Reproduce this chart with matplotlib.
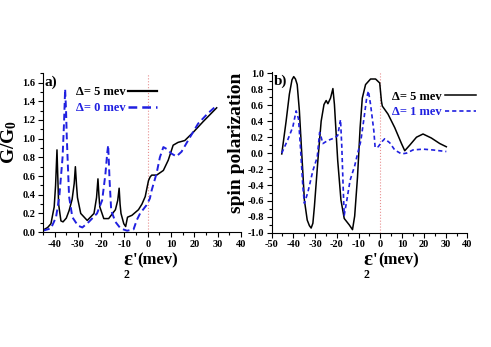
import matplotlib
matplotlib.use("Agg")
import matplotlib.pyplot as plt
from matplotlib.ticker import MultipleLocator
from matplotlib.lines import Line2D

# panel a) conductance
x_a5 = [-45, -44.4, -43, -41.6, -40.2, -39.6, -39.0, -38.6, -38.3, -37.3, -36.4, -35, -33.8, -32.5,
        -31.6, -31.1, -30.6, -30.2, -28.8, -26.0, -23.1, -22.0, -21.4, -21.0, -20.6, -18.9, -16.8,
        -13.9, -12.9, -12.3, -11.9, -11.5, -10.3, -9.5, -8.7, -6.8, -4.0, -2.5, -1.1, 0.3, 1.0, 1.7,
        3.8, 6.7, 8.8, 10.9, 13.0, 15.9, 19.6, 23.7, 29.6]
g_a5 = [0.03, 0.03, 0.05, 0.09, 0.27, 0.5, 0.88, 0.55, 0.30, 0.12, 0.11, 0.15, 0.23, 0.35,
        0.52, 0.70, 0.5, 0.37, 0.2, 0.125, 0.2, 0.37, 0.57, 0.4, 0.27, 0.145, 0.145,
        0.24, 0.34, 0.47, 0.3, 0.2, 0.09, 0.06, 0.16, 0.18, 0.24, 0.3, 0.38, 0.55, 0.59, 0.61,
        0.61, 0.66, 0.77, 0.93, 0.96, 0.98, 1.07, 1.18, 1.33]
x_a0 = [-45, -44.4, -41.6, -39.4, -38, -36.6, -36.0, -35.5, -35.1, -34.8, -33.8, -32.4, -30, -28.1,
        -25.3, -21.8, -19.6, -18.2, -17.4, -17.0, -16.4, -15.7, -13.9, -11.7, -8.9, -6.1, -4.7, -3.3,
        -0.5, 0.9, 1.7, 3.8, 5.2, 6.7, 8.1, 10.2, 12.3, 14.5, 17.3, 21.6, 25.8, 29.4]
g_a0 = [0.02, 0.02, 0.04, 0.16, 0.38, 0.80, 1.15, 1.53, 1.3, 1.02, 0.38, 0.16, 0.07, 0.05,
        0.11, 0.20, 0.34, 0.62, 0.85, 0.93, 0.55, 0.23, 0.11, 0.04, 0.015, 0.03, 0.13, 0.20,
        0.29, 0.36, 0.45, 0.63, 0.80, 0.91, 0.89, 0.84, 0.81, 0.86, 0.98, 1.16, 1.27, 1.35]

# panel b) spin polarization
x_b5 = [-45.3, -43.3, -41.8, -40.6, -39.8, -39.0, -38.2, -37.2, -36.1, -34.9, -33.6, -32.6, -31.8,
        -31.0, -30.3, -28.7, -27.2, -25.9, -24.9, -24.1, -22.9, -21.8, -21.1, -19.6, -18.1, -16.6,
        -14.3, -12.8, -11.8, -10.5, -9.3, -8.3, -6.8, -4.5, -2.2, -0.3, 0.5, 0.9, 3.5, 6.6, 9.7,
        11.2, 13.5, 16.6, 19.6, 23.4, 27.3, 30.3]
p_b5 = [-0.01, 0.40, 0.74, 0.92, 0.96, 0.93, 0.86, 0.53, -0.01, -0.59, -0.84, -0.91, -0.94,
        -0.88, -0.67, -0.09, 0.40, 0.61, 0.66, 0.62, 0.69, 0.81, 0.61, -0.09, -0.59, -0.82,
        -0.90, -0.96, -0.79, -0.30, 0.32, 0.69, 0.86, 0.93, 0.93, 0.88, 0.65, 0.59, 0.49, 0.32, 0.12,
        0.03, 0.10, 0.20, 0.24, 0.19, 0.12, 0.08]
x_b1 = [-45.3, -42.5, -40.2, -38.7, -37.6, -36.7, -35.6, -34.9, -33.3, -31.0, -29.0, -27.9, -27.2,
        -26.4, -24.1, -21.1, -19.6, -18.3, -17.7, -17.1, -16.6, -15.4, -13.9, -11.8, -10.5, -9.0,
        -7.5, -6.3, -5.5, -4.5, -3.0, -2.4, -1.0, 0.95, 2.0, 4.3, 6.6, 9.7, 12.0, 15.0, 19.6, 24.1, 30.3]
p_b1 = [0.0, 0.17, 0.33, 0.53, 0.43, 0.07, -0.42, -0.63, -0.49, -0.22, -0.05, 0.26, 0.20,
        0.12, 0.16, 0.19, 0.22, 0.42, 0.07, -0.42, -0.78, -0.59, -0.34, -0.16, -0.01, 0.15,
        0.44, 0.69, 0.78, 0.61, 0.28, 0.07, 0.08, 0.15, 0.18, 0.13, 0.04, -0.01, 0.0, 0.04, 0.05, 0.04, 0.02]

plt.rcParams['font.family'] = 'Liberation Serif'
plt.rcParams['font.weight'] = 'bold'
plt.rcParams['axes.labelweight'] = 'bold'
plt.rcParams['axes.unicode_minus'] = False
plt.rcParams['mathtext.fontset'] = 'custom'
plt.rcParams['mathtext.rm'] = 'Liberation Serif:bold'
plt.rcParams['mathtext.it'] = 'Liberation Serif:bold'
plt.rcParams['mathtext.bf'] = 'Liberation Serif:bold'

blue = '#2020e0'
W, H = 491, 347
fig = plt.figure(figsize=(W / 100, H / 100), dpi=100)
ax1 = fig.add_axes([0.0876, 0.331, 0.403, 0.458])
ax2 = fig.add_axes([0.553, 0.329, 0.399, 0.464])


def style(ax):
    for s in ['top', 'right']:
        ax.spines[s].set_visible(False)
    ax.tick_params(which='both', direction='out', labelsize=7.5, width=0.8, pad=2)
    ax.tick_params(which='major', length=3.5)
    ax.tick_params(which='minor', length=2)
    ax.xaxis.set_major_locator(MultipleLocator(10))
    ax.xaxis.set_minor_locator(MultipleLocator(5))
    ax.axvline(0, color='#e89090', lw=0.8, ls=':', zorder=0)


def eps_label(x_eps, x_mev):
    # epsilon'_2 (mev) label built from pieces, positions in pixels
    fig.text(x_eps / W, 1 - 265 / H, 'ε', fontsize=15, ha='right', va='baseline')
    fig.text((x_eps - 6) / W, 1 - 277.5 / H, '2', fontsize=8.5, ha='center', va='baseline')
    fig.text((x_eps + 0.5) / W, 1 - 264 / H, "'", fontsize=12, ha='left', va='baseline')
    fig.text(x_mev / W, 1 - 264 / H, '(mev)', fontsize=12, ha='left', va='baseline')


# a)
ax1.plot(x_a5, g_a5, color='black', lw=1.1)
ax1.plot(x_a0, g_a0, color=blue, lw=1.4, dashes=(3.5, 2.0))
ax1.set_xlim(-45, 40)
ax1.set_ylim(0, 1.7)
ax1.yaxis.set_major_locator(MultipleLocator(0.2))
ax1.yaxis.set_minor_locator(MultipleLocator(0.1))
style(ax1)
ax1.set_ylabel(r"G/G$_0$", fontsize=14)
ax1.yaxis.set_label_coords(-0.12, 0.566)
ax1.text(0.005, 0.985, 'a)', transform=ax1.transAxes, fontsize=11, va='top')
h = [Line2D([], [], color='black', lw=1.6), Line2D([], [], color=blue, lw=1.8, dashes=(3.5, 2.0))]
leg = ax1.legend(h, ['Δ= 5 mev', 'Δ= 0 mev'], loc='upper left', bbox_to_anchor=(0.13, 0.965),
                 frameon=False, markerfirst=False, fontsize=9, handlelength=2.3,
                 handletextpad=0.2, labelspacing=0.3, borderpad=0.1)
leg.get_texts()[1].set_color(blue)
eps_label(132, 137)

# b)
ax2.plot(x_b5, p_b5, color='black', lw=1.1)
ax2.plot(x_b1, p_b1, color=blue, lw=1.2, dashes=(2.5, 1.8))
ax2.set_xlim(-50, 40)
ax2.set_ylim(-1.0, 1.02)
ax2.yaxis.set_major_locator(MultipleLocator(0.2))
ax2.yaxis.set_minor_locator(MultipleLocator(0.1))
style(ax2)
ax2.set_ylabel('spin polarization', fontsize=14)
ax2.yaxis.set_label_coords(-0.135, 0.56)
ax2.text(0.01, 0.985, 'b)', transform=ax2.transAxes, fontsize=11, va='top')
h = [Line2D([], [], color='black', lw=1.1), Line2D([], [], color=blue, lw=1.2, dashes=(2.5, 1.8))]
leg = ax2.legend(h, ['Δ= 5 mev', 'Δ= 1 mev'], loc='upper left', bbox_to_anchor=(0.575, 0.93),
                 frameon=False, markerfirst=False, fontsize=9, handlelength=2.5,
                 handletextpad=0.3, labelspacing=0.3, borderpad=0.1)
leg.get_texts()[1].set_color(blue)
eps_label(372, 378)

fig.savefig('out.png', dpi=100)
